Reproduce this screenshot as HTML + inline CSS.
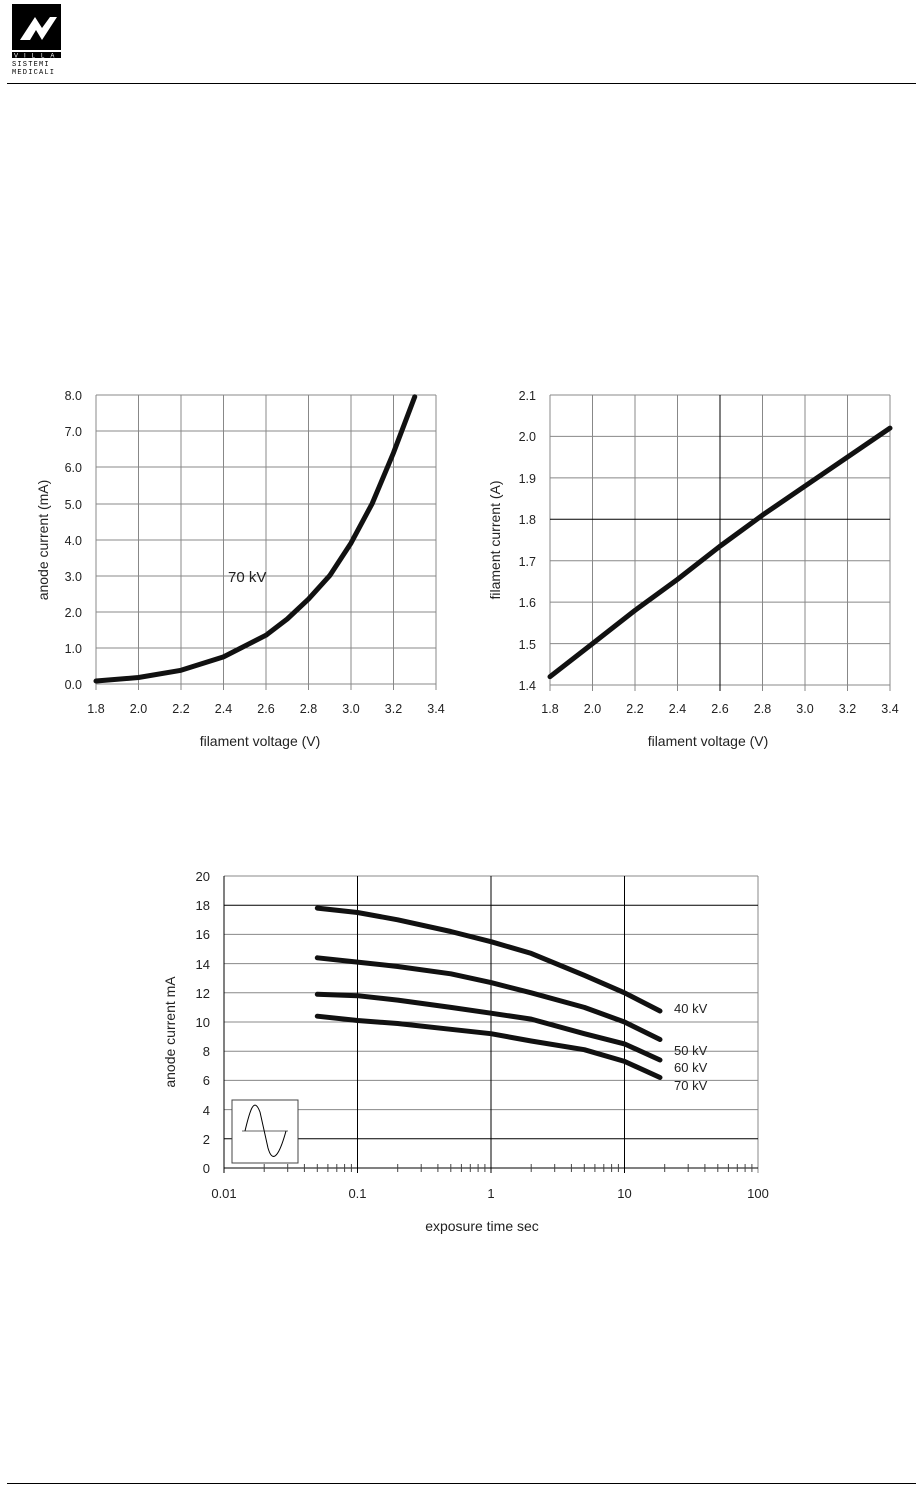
<!DOCTYPE html>
<html><head><meta charset="utf-8"><style>
body{margin:0;background:#fff;}
svg{display:block;font-family:"Liberation Sans",sans-serif;}
</style></head><body>
<svg width="923" height="1490" viewBox="0 0 923 1490">
<!-- header -->
<rect x="12" y="4" width="49" height="46" fill="#000"/>
<path d="M20 40 L35 17 L42 28 L50 17 L57 17 L42 40 L36 30 L30 40 Z" fill="#fff"/>
<rect x="12" y="52" width="49" height="6" fill="#000"/>
<text x="14" y="57.5" font-size="6" fill="#fff" letter-spacing="6">VILLA</text>
<text x="12" y="66" font-size="7" letter-spacing="1.2" font-family="Liberation Mono,monospace">SISTEMI</text>
<text x="12" y="74" font-size="7" letter-spacing="1.2" font-family="Liberation Mono,monospace">MEDICALI</text>
<line x1="7" y1="83.5" x2="916" y2="83.5" stroke="#000" stroke-width="1"/>
<line x1="7" y1="1483.5" x2="916" y2="1483.5" stroke="#000" stroke-width="1"/>

<!-- chart 1 -->
<g stroke="#888" stroke-width="1">
<line x1="96" y1="395" x2="436" y2="395"/><line x1="96" y1="431" x2="436" y2="431"/><line x1="96" y1="467" x2="436" y2="467"/><line x1="96" y1="504" x2="436" y2="504"/><line x1="96" y1="540" x2="436" y2="540"/><line x1="96" y1="576" x2="436" y2="576"/><line x1="96" y1="612" x2="436" y2="612"/><line x1="96" y1="648" x2="436" y2="648"/><line x1="96" y1="684" x2="436" y2="684"/>
<line x1="96" y1="395" x2="96" y2="690"/><line x1="138.5" y1="395" x2="138.5" y2="690"/><line x1="181" y1="395" x2="181" y2="690"/><line x1="223.5" y1="395" x2="223.5" y2="690"/><line x1="266" y1="395" x2="266" y2="690"/><line x1="308.5" y1="395" x2="308.5" y2="690"/><line x1="351" y1="395" x2="351" y2="690"/><line x1="393.5" y1="395" x2="393.5" y2="690"/><line x1="436" y1="395" x2="436" y2="690"/>
</g>
<polyline points="96,681 138.5,677.5 181,670.3 223.5,656.9 266,635.2 287.25,619 308.5,599.1 329.75,575.6 351,543.1 372.25,503.4 393.5,452.8 414.75,396.8" fill="none" stroke="#111" stroke-width="5" stroke-linejoin="round" stroke-linecap="round"/>
<g font-size="12.5" fill="#222" text-anchor="end">
<text x="82" y="400">8.0</text><text x="82" y="436">7.0</text><text x="82" y="472">6.0</text><text x="82" y="509">5.0</text><text x="82" y="545">4.0</text><text x="82" y="581">3.0</text><text x="82" y="617">2.0</text><text x="82" y="653">1.0</text><text x="82" y="689">0.0</text>
</g>
<g font-size="12.5" fill="#222" text-anchor="middle">
<text x="96" y="713">1.8</text><text x="138.5" y="713">2.0</text><text x="181" y="713">2.2</text><text x="223.5" y="713">2.4</text><text x="266" y="713">2.6</text><text x="308.5" y="713">2.8</text><text x="351" y="713">3.0</text><text x="393.5" y="713">3.2</text><text x="436" y="713">3.4</text>
<text x="260" y="746" font-size="14">filament voltage (V)</text>
</g>
<text x="228" y="582" font-size="15" fill="#222">70 kV</text>
<text transform="translate(48,540) rotate(-90)" font-size="14" fill="#222" text-anchor="middle">anode current (mA)</text>

<!-- chart 2 -->
<g stroke="#888" stroke-width="1">
<line x1="550" y1="395" x2="890" y2="395"/><line x1="550" y1="436.4" x2="890" y2="436.4"/><line x1="550" y1="477.9" x2="890" y2="477.9"/><line x1="550" y1="560.7" x2="890" y2="560.7"/><line x1="550" y1="602.1" x2="890" y2="602.1"/><line x1="550" y1="643.6" x2="890" y2="643.6"/><line x1="550" y1="685" x2="890" y2="685"/>
<line x1="550" y1="395" x2="550" y2="691"/><line x1="592.5" y1="395" x2="592.5" y2="691"/><line x1="635" y1="395" x2="635" y2="691"/><line x1="677.5" y1="395" x2="677.5" y2="691"/><line x1="762.5" y1="395" x2="762.5" y2="691"/><line x1="805" y1="395" x2="805" y2="691"/><line x1="847.5" y1="395" x2="847.5" y2="691"/><line x1="890" y1="395" x2="890" y2="691"/>
</g>
<line x1="550" y1="519.3" x2="890" y2="519.3" stroke="#000"/>
<line x1="720" y1="395" x2="720" y2="691" stroke="#000"/>
<polyline points="550,676.7 592.5,643.6 635,610.4 677.5,579.4 720,546.2 762.5,515.1 805,486.1 847.5,457.1 890,428.1" fill="none" stroke="#111" stroke-width="5" stroke-linejoin="round" stroke-linecap="round"/>
<g font-size="12.5" fill="#222" text-anchor="end">
<text x="536" y="400">2.1</text><text x="536" y="441">2.0</text><text x="536" y="483">1.9</text><text x="536" y="524">1.8</text><text x="536" y="566">1.7</text><text x="536" y="607">1.6</text><text x="536" y="649">1.5</text><text x="536" y="690">1.4</text>
</g>
<g font-size="12.5" fill="#222" text-anchor="middle">
<text x="550" y="713">1.8</text><text x="592.5" y="713">2.0</text><text x="635" y="713">2.2</text><text x="677.5" y="713">2.4</text><text x="720" y="713">2.6</text><text x="762.5" y="713">2.8</text><text x="805" y="713">3.0</text><text x="847.5" y="713">3.2</text><text x="890" y="713">3.4</text>
<text x="708" y="746" font-size="14">filament voltage (V)</text>
</g>
<text transform="translate(500,540) rotate(-90)" font-size="14" fill="#222" text-anchor="middle">filament current (A)</text>

<!-- chart 3 -->
<g stroke="#888" stroke-width="1">
<line x1="224" y1="876" x2="758" y2="876"/><line x1="224" y1="934.4" x2="758" y2="934.4"/><line x1="224" y1="963.6" x2="758" y2="963.6"/><line x1="224" y1="992.8" x2="758" y2="992.8"/><line x1="224" y1="1022" x2="758" y2="1022"/><line x1="224" y1="1051.2" x2="758" y2="1051.2"/><line x1="224" y1="1080.4" x2="758" y2="1080.4"/><line x1="224" y1="1109.6" x2="758" y2="1109.6"/>
<line x1="758" y1="876" x2="758" y2="1173"/>
</g>
<g stroke="#000" stroke-width="1">
<line x1="224" y1="905.2" x2="758" y2="905.2"/><line x1="224" y1="1138.8" x2="758" y2="1138.8"/>
<line x1="224" y1="1168" x2="758" y2="1168"/>
<line x1="224" y1="876" x2="224" y2="1173"/>
<line x1="357.5" y1="876" x2="357.5" y2="1173"/><line x1="491" y1="876" x2="491" y2="1173"/><line x1="624.5" y1="876" x2="624.5" y2="1173"/>
</g>
<g stroke="#444" stroke-width="1">
<line x1="264.2" y1="1164" x2="264.2" y2="1172"/><line x1="287.7" y1="1164" x2="287.7" y2="1172"/><line x1="304.4" y1="1164" x2="304.4" y2="1172"/><line x1="317.3" y1="1164" x2="317.3" y2="1172"/><line x1="327.9" y1="1164" x2="327.9" y2="1172"/><line x1="336.8" y1="1164" x2="336.8" y2="1172"/><line x1="344.6" y1="1164" x2="344.6" y2="1172"/><line x1="351.4" y1="1164" x2="351.4" y2="1172"/>
<line x1="397.7" y1="1164" x2="397.7" y2="1172"/><line x1="421.2" y1="1164" x2="421.2" y2="1172"/><line x1="437.9" y1="1164" x2="437.9" y2="1172"/><line x1="450.8" y1="1164" x2="450.8" y2="1172"/><line x1="461.4" y1="1164" x2="461.4" y2="1172"/><line x1="470.3" y1="1164" x2="470.3" y2="1172"/><line x1="478.1" y1="1164" x2="478.1" y2="1172"/><line x1="484.9" y1="1164" x2="484.9" y2="1172"/>
<line x1="531.2" y1="1164" x2="531.2" y2="1172"/><line x1="554.7" y1="1164" x2="554.7" y2="1172"/><line x1="571.4" y1="1164" x2="571.4" y2="1172"/><line x1="584.3" y1="1164" x2="584.3" y2="1172"/><line x1="594.9" y1="1164" x2="594.9" y2="1172"/><line x1="603.8" y1="1164" x2="603.8" y2="1172"/><line x1="611.6" y1="1164" x2="611.6" y2="1172"/><line x1="618.4" y1="1164" x2="618.4" y2="1172"/>
<line x1="664.7" y1="1164" x2="664.7" y2="1172"/><line x1="688.2" y1="1164" x2="688.2" y2="1172"/><line x1="704.9" y1="1164" x2="704.9" y2="1172"/><line x1="717.8" y1="1164" x2="717.8" y2="1172"/><line x1="728.4" y1="1164" x2="728.4" y2="1172"/><line x1="737.3" y1="1164" x2="737.3" y2="1172"/><line x1="745.1" y1="1164" x2="745.1" y2="1172"/><line x1="751.9" y1="1164" x2="751.9" y2="1172"/>
</g>
<g fill="none" stroke="#111" stroke-width="5" stroke-linejoin="round" stroke-linecap="round">
<polyline points="317.3,908.1 357.5,912.5 397.7,919.8 450.8,931.5 491,941.7 531.2,953.4 584.3,975.3 624.5,992.8 660,1011"/>
<polyline points="317.3,957.8 357.5,962.1 397.7,966.5 450.8,973.8 491,982.6 531.2,992.8 584.3,1007.4 624.5,1022 660,1039.5"/>
<polyline points="317.3,994.3 357.5,995.7 397.7,1000.1 450.8,1007.4 491,1013.2 531.2,1019.1 584.3,1033.7 624.5,1043.9 660,1060"/>
<polyline points="317.3,1016.2 357.5,1020.5 397.7,1023.5 450.8,1029.3 491,1033.7 531.2,1041 584.3,1049.7 624.5,1061.4 660,1077.5"/>
</g>
<g font-size="13" fill="#222">
<text x="674" y="1013">40 kV</text><text x="674" y="1055">50 kV</text><text x="674" y="1072">60 kV</text><text x="674" y="1090">70 kV</text>
</g>
<rect x="232" y="1100" width="66" height="63" fill="#fff" stroke="#444"/>
<line x1="242" y1="1131" x2="288" y2="1131" stroke="#666"/>
<path d="M245 1131 C250 1110,254 1096,260 1112 L268 1148 C272 1162,278 1160,286 1131" fill="none" stroke="#000" stroke-width="1"/>
<g font-size="13" fill="#222" text-anchor="end">
<text x="210" y="881">20</text><text x="210" y="910">18</text><text x="210" y="939">16</text><text x="210" y="969">14</text><text x="210" y="998">12</text><text x="210" y="1027">10</text><text x="210" y="1056">8</text><text x="210" y="1085">6</text><text x="210" y="1115">4</text><text x="210" y="1144">2</text><text x="210" y="1173">0</text>
</g>
<g font-size="13" fill="#222" text-anchor="middle">
<text x="224" y="1198">0.01</text><text x="357.5" y="1198">0.1</text><text x="491" y="1198">1</text><text x="624.5" y="1198">10</text><text x="758" y="1198">100</text>
<text x="482" y="1231" font-size="14">exposure time sec</text>
</g>
<text transform="translate(175,1032) rotate(-90)" font-size="14" fill="#222" text-anchor="middle">anode current mA</text>
</svg>
</body></html>
